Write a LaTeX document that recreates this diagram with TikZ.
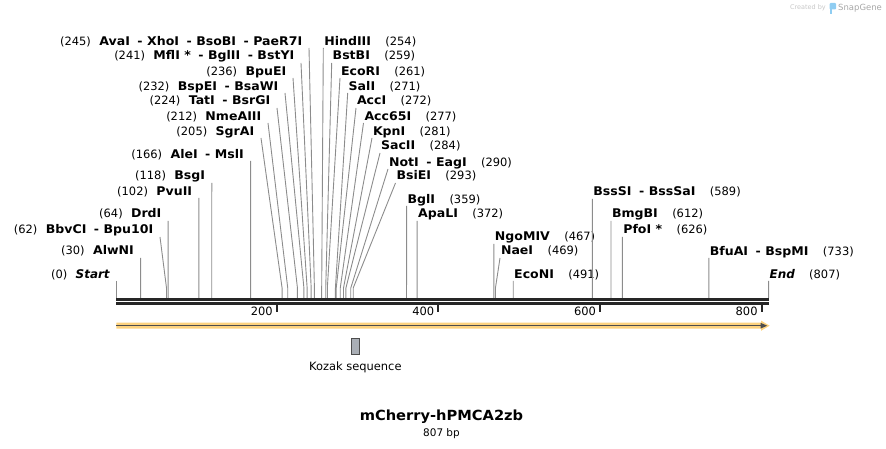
\documentclass[tikz,border=0pt]{standalone}
\usepackage{fontspec}
\setmainfont{DejaVu Sans}[BoldFeatures={FakeStretch=1.05}]
\usetikzlibrary{calc}
\usetikzlibrary{positioning}
\definecolor{sitegray}{HTML}{8C8C8C}
\definecolor{bbone}{HTML}{262626}
\definecolor{featorange}{HTML}{FDD27E}
\definecolor{featdark}{HTML}{4D4D4D}
\definecolor{kozakfill}{HTML}{A9AEB5}
\definecolor{snapblue}{HTML}{8FCDF2}
\newcommand\cutsep{\hspace{7.5bp}-\hspace{4.5bp}}

\begin{document}
\begin{tikzpicture}[x=1bp, y=-1bp,
  enzyme/.style={font=\fontsize{12}{14}\selectfont\bfseries, inner sep=0pt, text height=8.8bp, text depth=2.6bp},
  cutpos/.style={font=\fontsize{11.5}{13}\selectfont, inner sep=0pt, text height=8.8bp, text depth=2.6bp},
  site/.style={sitegray, line width=.9bp},
  backbone/.style={bbone, line width=2.7bp}]
\useasboundingbox (0,0) rectangle (886,449);

% enzymes whose label stands left of the line
\foreach \p/\tx/\ty/\cy/\nm in {
  245/309/48/42.7/AvaI\cutsep XhoI\cutsep BsoBI\cutsep PaeR7I,
  241/301/63/56.7/MflI *\cutsep BglII\cutsep BstYI,
  236/293/78/72.3/BpuEI,
  232/285/93/87.3/BspEI\cutsep BsaWI,
  224/277/108/101.7/TatI\cutsep BsrGI,
  212/268/123/117.3/NmeAIII,
  205/261/138/132/SgrAI,
  166/250.6/161/155.7/AleI\cutsep MslI,
  118/211.8/183/176.7/BsgI,
  102/198.8/198/192.3/PvuII,
  64/168.1/221/214.3/DrdI,
  62/160/237/230/BbvCI\cutsep Bpu10I,
  30/140.6/258/251.7/AlwNI,
  0/116.4/281/275/{\itshape Start}}
{
  \pgfmathsetmacro\sx{116.4+0.8082*\p}
  \node[enzyme, anchor=east] (L\p) at (\tx-6.5,\cy) {\nm};
  \node[cutpos, left=8bp of L\p] (Ln\p) {(\p)};
  \coordinate (Lt\p) at (\tx,\ty);
  \coordinate (Lb\p) at (\sx,288);
  \coordinate (Lc\p) at (\sx,298);
  \draw[site] (Lt\p) -- (Lb\p) -- (Lc\p);
}

% enzymes whose label stands right of the line
\foreach \p/\tx/\ty/\cy/\nm in {
  254/323.3/48/42.7/HindIII,
  259/331.7/63/56.7/BstBI,
  261/340/78/72.3/EcoRI,
  271/347.7/93/87.3/SalI,
  272/356/108/101.7/AccI,
  277/363.5/123/117.3/Acc65I,
  281/372/138/132/KpnI,
  284/380/153/146.7/SacII,
  290/388/169/163.3/NotI\cutsep EagI,
  293/395.5/183/176.7/BsiEI,
  359/406.6/206/200/BglI,
  372/417.1/221/214.3/ApaLI,
  467/493.9/244/237.3/NgoMIV,
  469/500/258/251.7/NaeI,
  491/513.2/281/275/EcoNI,
  589/592.4/199/192.3/BssSI\cutsep BssSaI,
  612/611/221/214.3/BmgBI,
  626/622.3/237/230.5/PfoI *,
  733/708.8/258/252/BfuAI\cutsep BspMI,
  807/768.6/281/275.3/{\itshape End}}
{
  \pgfmathsetmacro\sx{116.4+0.8082*\p}
  \node[enzyme, anchor=west] (R\p) at (\tx+0.8,\cy) {\nm};
  \node[cutpos, right=14bp of R\p] (Rn\p) {(\p)};
  \coordinate (Rt\p) at (\tx,\ty);
  \coordinate (Rb\p) at (\sx,288);
  \coordinate (Rc\p) at (\sx,298);
  \draw[site] (Rt\p) -- (Rb\p) -- (Rc\p);
}

% sequence line and ruler
\coordinate (bbL) at (116.4,299.5);
\coordinate (bbR) at (768.6,299.5);
\draw[backbone] (bbL) -- (bbR);
\draw[backbone] ($(bbL)+(0,4)$) -- ($(bbR)+(0,4)$);
\foreach \tk in {200,400,600,800}{
  \pgfmathsetmacro\kx{116.4+0.8082*\tk-1.2}
  \draw[bbone, line width=2bp] (\kx,304.5) -- (\kx,312.3);
  \node[cutpos, anchor=east] (T\tk) at (\kx-4,312.5) {\tk};
}

% feature arrow
\fill[featorange] (116.4,322.7) -- (761,322.7) -- (761,320.6) -- (769.6,325.7)
  -- (761,330.8) -- (761,328.7) -- (116.4,328.7) -- cycle;
\draw[featdark, line width=1.6bp] (116.4,325.7) -- (762,325.7);
\fill[featdark] (760.5,322.8) -- (767.2,325.7) -- (760.5,328.6) -- cycle;

% Kozak sequence
\node[draw=featdark, fill=kozakfill, line width=.8bp, inner sep=0pt,
  minimum width=8bp, minimum height=16bp] (kozak) at (355.3,346) {};
\node[cutpos, below=7bp of kozak] (kozaklbl) {Kozak sequence};

% title
\node[font=\fontsize{14}{16}\selectfont\bfseries, inner sep=0pt] (title) at (441.5,417) {mCherry-hPMCA2zb};
\node[font=\fontsize{10.5}{12}\selectfont, inner sep=0pt] (bp) at (441.5,433.5) {807 bp};

% watermark
\node[font=\fontsize{6.5}{8}\selectfont, text=black!22, inner sep=0pt, anchor=east] (made) at (826,8) {Created by};
\fill[snapblue, rounded corners=1bp] (829.5,3) rectangle (836,9.5);
\fill[snapblue] (829.5,9) rectangle (832.3,14);
\node[font=\fontsize{8.5}{10}\selectfont, text=black!35, inner sep=0pt, anchor=west] (snap) at (838,8.3) {SnapGene};
\end{tikzpicture}
\end{document}
